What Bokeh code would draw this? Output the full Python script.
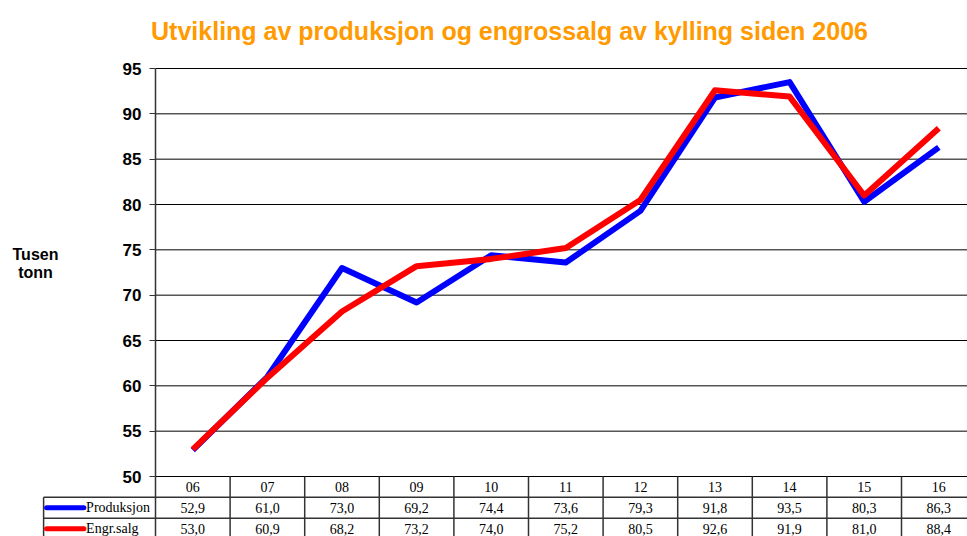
from bokeh.plotting import figure
from bokeh.models import Range1d, FixedTicker, Label
from bokeh.core.properties import value
from bokeh.embed import file_html
from bokeh.resources import INLINE

# ---- data ----
categories = ["06", "07", "08", "09", "10", "11", "12", "13", "14", "15", "16"]
produksjon = [52.9, 61.0, 73.0, 69.2, 74.4, 73.6, 79.3, 91.8, 93.5, 80.3, 86.3]
engrossalg = [53.0, 60.9, 68.2, 73.2, 74.0, 75.2, 80.5, 92.6, 91.9, 81.0, 88.4]
series_names = ["Produksjon", "Engr.salg"]
y_ticks = [50, 55, 60, 65, 70, 75, 80, 85, 90, 95]
title_text = "Utvikling av produksjon og engrossalg av kylling siden 2006"
y_label = ["Tusen", "tonn"]

BLUE = "#0000FF"
RED = "#FF0000"
n = len(categories)
xs = [i + 0.5 for i in range(n)]

# layout geometry (pixels -> data units)
W, H = 967, 536
PX_X = 74.6             # px per category
PX_Y = (476 - 68) / 45  # px per y unit
x0 = -155 / PX_X
x1 = (W - 155) / PX_X
y_lo = 50 - (H - 476) / PX_Y
y_hi = 95 + 68 / PX_Y
RH = 2.3      # table row height in y units

p = figure(width=W, height=H, x_range=Range1d(x0, x1), y_range=Range1d(y_lo, y_hi),
           output_backend="svg", toolbar_location=None, title=None,
           min_border_left=0, min_border_right=0, min_border_top=0, min_border_bottom=0)
p.outline_line_color = None
p.xaxis.visible = False
p.grid.visible = False

ax = p.yaxis[0]
ax.fixed_location = 0
ax.bounds = (50, 95)
ax.ticker = FixedTicker(ticks=y_ticks)
ax.major_label_text_font = "Liberation Sans"
ax.major_label_text_font_style = "bold"
ax.major_label_text_font_size = "17px"
ax.major_label_text_color = "black"
ax.major_tick_out = 6
ax.major_tick_in = 0
ax.minor_tick_line_color = None
ax.major_label_standoff = 8
ax.axis_line_color = "#333333"
ax.axis_line_width = 1.5
ax.major_tick_line_color = "#333333"

# horizontal gridlines
p.segment(x0=[0] * len(y_ticks), y0=y_ticks, x1=[n] * len(y_ticks), y1=y_ticks,
          line_color="black", line_width=1)

# series
p.line(xs, produksjon, line_color=BLUE, line_width=6, line_join="round")
p.line(xs, engrossalg, line_color=RED, line_width=6, line_join="round")

# title and y label
p.add_layout(Label(x=(509 - 155) / PX_X, y=95 + (68 - 30) / PX_Y, text=title_text,
                   text_align="center", text_baseline="middle",
                   text_font="Liberation Sans", text_font_style="bold",
                   text_font_size="25px", text_color="#FF9A00"))
for k, t in enumerate(y_label):
    p.add_layout(Label(x=(35 - 155) / PX_X, y=95 - (254 + 18 * k - 68) / PX_Y, text=t,
                       text_align="center", text_baseline="middle",
                       text_font="Liberation Sans", text_font_style="bold",
                       text_font_size="16px", text_color="black"))

# ---- data table ----
LC = "#333333"
r1, r2, r3 = 50 - RH, 50 - 2 * RH, 50 - 3 * RH
p.segment(x0=[-1.5, -1.5], y0=[r1, r2], x1=[n, n], y1=[r1, r2], line_color=LC, line_width=1.5)
vx = [-1.5] + list(range(n + 1))
vy1 = [r1] + [50] * (n + 1)
p.segment(x0=vx, y0=[r3] * len(vx), x1=vx, y1=vy1, line_color=LC, line_width=1.5)

tf = value("Liberation Serif")
fmt = lambda v: f"{v:.1f}".replace(".", ",")
p.text(x=xs, y=[50 - 0.5 * RH] * n, text=categories, text_align="center", text_baseline="middle",
       text_font=tf, text_font_size="14px", text_color="black")
p.text(x=xs, y=[50 - 1.5 * RH] * n, text=[fmt(v) for v in produksjon],
       text_align="center", text_baseline="middle", text_font=tf, text_font_size="14px", text_color="black")
p.text(x=xs, y=[50 - 2.5 * RH] * n, text=[fmt(v) for v in engrossalg],
       text_align="center", text_baseline="middle", text_font=tf, text_font_size="14px", text_color="black")

# legend keys in the table
p.segment(x0=[-1.46, -1.46], y0=[50 - 1.5 * RH, 50 - 2.5 * RH], x1=[-0.96, -0.96],
          y1=[50 - 1.5 * RH, 50 - 2.5 * RH], line_color=[BLUE, RED], line_width=5, line_cap="round")
p.text(x=[-0.93, -0.93], y=[50 - 1.5 * RH, 50 - 2.5 * RH], text=series_names, text_align="left",
       text_baseline="middle", text_font=tf, text_font_size="14px", text_color="black")

open("out.html", "w").write(file_html(p, INLINE))
